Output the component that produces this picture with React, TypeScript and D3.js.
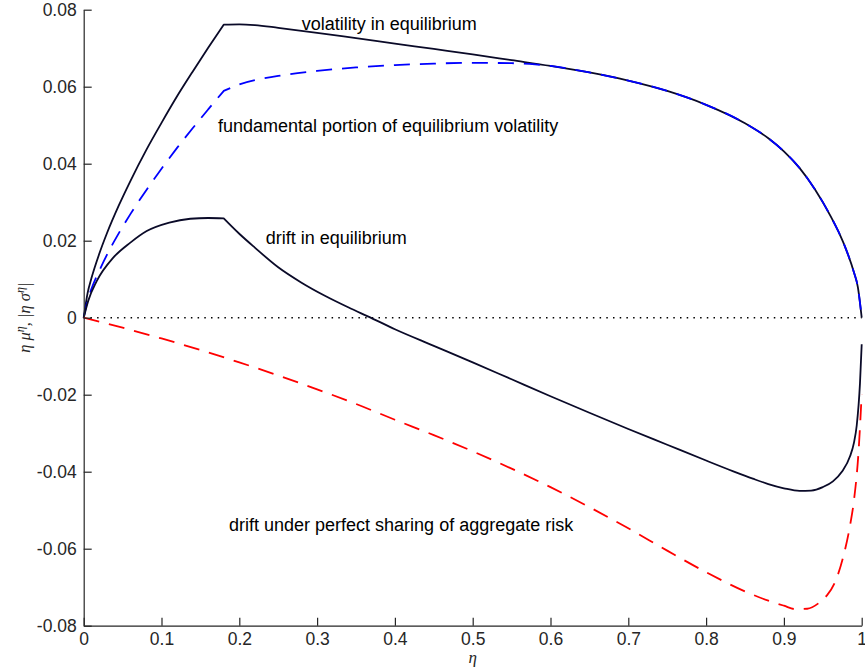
import React, { useEffect, useRef } from 'react';
import * as d3 from 'd3';

// values
const KINK = 0.18;

const volatility: [number, number][] = [
  [0, 0], [0.005, 0.0064], [0.01, 0.0103], [0.02, 0.0166], [0.03, 0.022], [0.045, 0.0291],
  [0.06, 0.0355], [0.08, 0.0434], [0.1, 0.0506], [0.12, 0.0575], [0.14, 0.0639],
  [0.16, 0.0701], [0.18, 0.0761], [0.2, 0.0762], [0.22, 0.076], [0.25, 0.0753],
  [0.3, 0.074], [0.35, 0.0726], [0.4, 0.0712], [0.45, 0.0698], [0.5, 0.0684],
  [0.55, 0.0669], [0.6, 0.0654], [0.65, 0.0637], [0.7, 0.0616], [0.75, 0.0589],
  [0.8, 0.0553], [0.85, 0.0505], [0.88, 0.0466], [0.9, 0.0432], [0.92, 0.0389],
  [0.94, 0.0333], [0.96, 0.0264], [0.97, 0.0224], [0.98, 0.0177], [0.99, 0.0118],
  [0.995, 0.008], [1, 0],
];

const fundamental: [number, number][] = [
  [0, 0], [0.005, 0.0045], [0.01, 0.0075], [0.02, 0.0122], [0.03, 0.0164], [0.045, 0.0219],
  [0.06, 0.0269], [0.08, 0.033], [0.1, 0.0387], [0.12, 0.0441], [0.14, 0.0492],
  [0.16, 0.0541], [0.18, 0.0589], [0.2, 0.0606], [0.25, 0.0628], [0.3, 0.0641],
  [0.35, 0.065], [0.4, 0.0656], [0.45, 0.066], [0.5, 0.0662], [0.55, 0.0661],
  [0.58, 0.0658], [0.6, 0.0654], [0.65, 0.0637], [0.7, 0.0616], [0.75, 0.0589],
  [0.8, 0.0553], [0.85, 0.0505], [0.88, 0.0466], [0.9, 0.0432], [0.92, 0.0389],
  [0.94, 0.0333], [0.96, 0.0264], [0.97, 0.0224], [0.98, 0.0177], [0.99, 0.0118],
  [0.995, 0.008], [1, 0],
];

const drift: [number, number][] = [
  [0, 0], [0.006, 0.0045], [0.0167, 0.0095], [0.038, 0.0156], [0.06, 0.0195], [0.081, 0.0225],
  [0.11, 0.0247], [0.137, 0.0257], [0.16, 0.0259], [0.18, 0.0258], [0.2, 0.0218],
  [0.22, 0.0182], [0.25, 0.0131], [0.28, 0.0091], [0.31, 0.0057], [0.34, 0.0027],
  [0.37, -0.0001], [0.4, -0.003], [0.45, -0.0073], [0.5, -0.0116], [0.55, -0.016],
  [0.6, -0.0204], [0.65, -0.0247], [0.7, -0.0289], [0.75, -0.033], [0.8, -0.0371],
  [0.835, -0.0399], [0.86, -0.0418], [0.88, -0.0432], [0.9, -0.0443], [0.92, -0.045],
  [0.935, -0.0449], [0.95, -0.044], [0.963, -0.0425], [0.975, -0.0399], [0.985, -0.036],
  [0.99, -0.0325], [0.9936, -0.028], [0.9978, -0.017], [1, -0.0069],
];

const perfectSharing: [number, number][] = [
  [0, 0], [0.05, -0.0026], [0.1, -0.0054], [0.15, -0.0084], [0.2, -0.0116], [0.25, -0.015],
  [0.3, -0.0186], [0.35, -0.0224], [0.4, -0.0265], [0.45, -0.0305], [0.5, -0.0347],
  [0.55, -0.0392], [0.6, -0.044], [0.65, -0.0492], [0.7, -0.0547], [0.75, -0.0605],
  [0.8, -0.0661], [0.85, -0.0711], [0.88, -0.0735], [0.9, -0.0748], [0.915, -0.0757],
  [0.93, -0.0756], [0.945, -0.0741], [0.955, -0.0722], [0.965, -0.069], [0.9764, -0.062],
  [0.985, -0.054], [0.99, -0.0475], [0.9957, -0.0355], [1, -0.0198],
];

const xTicks = [0, 0.1, 0.2, 0.3, 0.4, 0.5, 0.6, 0.7, 0.8, 0.9, 1];
const yTicks = [-0.08, -0.06, -0.04, -0.02, 0, 0.02, 0.04, 0.06, 0.08];

const labels = [
  { text: 'volatility in equilibrium', x: 0.2802, y: 0.0746 },
  { text: 'fundamental portion of equilibrium volatility', x: 0.1726, y: 0.0483 },
  { text: 'drift in equilibrium', x: 0.2339, y: 0.0191 },
  { text: 'drift under perfect sharing of aggregate risk', x: 0.1868, y: -0.0554 },
];

export default function App() {
  const ref = useRef<SVGSVGElement>(null);

  useEffect(() => {
    document.body.style.margin = '0';
    const svg = d3.select(ref.current);
    svg.selectAll('*').remove();

    const x = d3.scaleLinear().domain([0, 1]).range([83.7, 861.7]);
    const y = d3.scaleLinear().domain([-0.08, 0.08]).range([625.7, 9.7]);

    const line = d3.line<[number, number]>()
      .x(d => x(d[0]))
      .y(d => y(d[1]))
      .curve(d3.curveMonotoneX);

    // keep the corner at the kink sharp: two smooth pieces in one path
    const kinked = (pts: [number, number][], kink: boolean) => {
      if (!kink) return line(pts) as string;
      const a = pts.filter(p => p[0] <= KINK);
      const b = pts.filter(p => p[0] >= KINK);
      return (line(a) as string) + (line(b) as string).replace(/^M/, 'L');
    };

    const axisColor = '#262626';
    const font = '"Liberation Sans", Arial, Helvetica, sans-serif';
    const serif = '"Liberation Serif", "Times New Roman", serif';

    // zero line
    svg.append('line')
      .attr('x1', x(0)).attr('x2', x(1))
      .attr('y1', y(0)).attr('y2', y(0))
      .attr('stroke', '#000')
      .attr('stroke-width', 1.5)
      .attr('stroke-dasharray', '1.5,5.2');

    const series = [
      { pts: volatility, color: '#0a0a28', dash: null, kink: true },
      { pts: fundamental, color: '#0000ff', dash: '16,10', kink: true },
      { pts: drift, color: '#0a0a28', dash: null, kink: true },
      { pts: perfectSharing, color: '#ff0000', dash: '16,10', kink: false },
    ];

    series.forEach(s => {
      svg.append('path')
        .attr('d', kinked(s.pts, s.kink))
        .attr('fill', 'none')
        .attr('stroke', s.color)
        .attr('stroke-width', 1.8)
        .attr('stroke-dasharray', s.dash)
        .attr('stroke-linejoin', 'round');
    });

    // axes, ticks pointing inward
    const xAxis = d3.axisBottom(x)
      .tickValues(xTicks)
      .tickFormat(d => (d === 0 || d === 1 ? String(d) : (+d).toFixed(1)))
      .tickSizeInner(-8)
      .tickSizeOuter(0)
      .tickPadding(7);

    const yAxis = d3.axisLeft(y)
      .tickValues(yTicks)
      .tickFormat(d => (d === 0 ? '0' : (+d).toFixed(2)))
      .tickSizeInner(-8)
      .tickSizeOuter(0)
      .tickPadding(7);

    const gx = svg.append('g')
      .attr('transform', `translate(0,${y(-0.08)})`)
      .call(xAxis);
    const gy = svg.append('g')
      .attr('transform', `translate(${x(0)},0)`)
      .call(yAxis);

    [gx, gy].forEach(g => {
      g.selectAll('path, line').attr('stroke', axisColor).attr('stroke-width', 1.2);
      g.selectAll('text')
        .attr('fill', axisColor)
        .style('font-family', font)
        .style('font-size', '17.5px');
    });

    // annotations
    labels.forEach(l => {
      svg.append('text')
        .attr('x', x(l.x))
        .attr('y', y(l.y))
        .attr('fill', '#000')
        .style('font-family', font)
        .style('font-size', '18px')
        .text(l.text);
    });

    // axis titles
    svg.append('text')
      .attr('x', x(0.5))
      .attr('y', 663)
      .attr('text-anchor', 'middle')
      .attr('fill', axisColor)
      .style('font-family', serif)
      .style('font-style', 'italic')
      .style('font-size', '17px')
      .text('η');

    const yt = svg.append('text')
      .attr('transform', `translate(30,${y(0)}) rotate(-90)`)
      .attr('text-anchor', 'middle')
      .attr('fill', axisColor)
      .style('font-family', serif)
      .style('font-style', 'italic')
      .style('font-size', '16.5px');
    yt.append('tspan').text('η μ');
    yt.append('tspan').attr('dy', -6).style('font-size', '12px').text('η');
    yt.append('tspan').attr('dy', 6).text(', |η σ');
    yt.append('tspan').attr('dy', -6).style('font-size', '12px').text('η');
    yt.append('tspan').attr('dy', 6).text('|');
  }, []);

  return <svg ref={ref} width={865} height={671} style={{ display: 'block', background: '#fff' }} />;
}
